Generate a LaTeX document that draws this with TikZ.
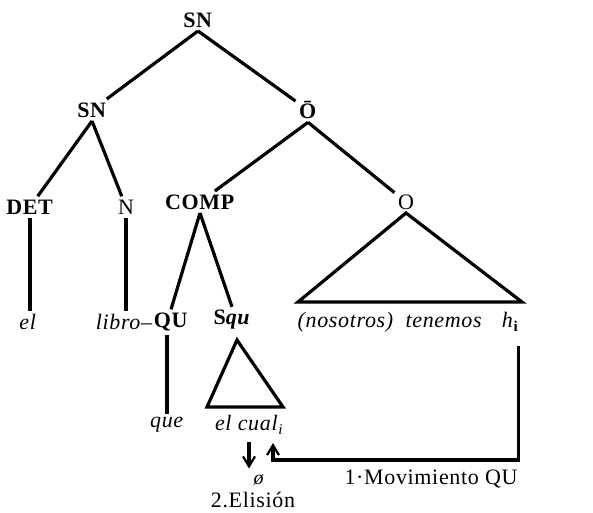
\documentclass[tikz,border=0pt]{standalone}
\usepackage{fontspec}
\setmainfont{Liberation Serif}[LetterSpace=3]
\usetikzlibrary{arrows.meta}
\newcommand{\lowidx}[1]{\raisebox{-0.45ex}{\fontsize{15}{15}\selectfont #1}}
\begin{document}
\begin{tikzpicture}[x=1pt,y=-1pt,font=\fontsize{22}{25}\selectfont,line width=3.2pt]
    \tikzset{lab/.style={inner sep=2pt},
             arr/.style={-{Straight Barb[length=10pt,width=12pt,line width=2.2pt]}}}
    \useasboundingbox (0,0) rectangle (593,512);
    % top levels
    \node[lab] (sn) at (198,20) {\textbf{SN}};
    \node[lab] (snl) at (92,110) {\textbf{SN}};
    \node[lab] (ob) at (308,110) {\textbf{\=O}};
    \draw (sn.south) -- (snl);
    \draw (sn.south) -- (ob);
    % SN branch
    \node[lab] (det) at (30,207) {\textbf{DET}};
    \node[lab] (n) at (126,207) {N};
    \draw (snl.south) -- (det);
    \draw (snl.south) -- (n);
    \node[lab] (el) at (28,322) {\textit{el}};
    \node[lab] (libro) at (124,322) {\textit{libro}--};
    \draw (det.south) -- (det.south |- el.north);
    \draw (n.south) -- (n.south |- libro.north);
    % O-bar branch
    \node[lab] (comp) at (200,202) {\textbf{COMP}};
    \node[lab] (o) at (406,202) {O};
    \draw (ob.south) -- (comp);
    \draw (ob.south) -- (o);
    \node[lab] (qu) at (171,322) {\textbf{QU}};
    \node[lab] (squ) at (232,320) {\textbf{S\textit{qu}}};
    \draw (comp.south) -- (qu.north);
    \draw (comp.south) -- (squ.north);
    \node[lab] (que) at (167,425) {\textit{que}};
    \draw ([xshift=-4pt]qu.south) -- ([xshift=-4pt]qu.south |- que.north);
    % triangle under Squ
    \coordinate (sqtop) at (237,340);
    \coordinate (sqbl) at (207,407);
    \coordinate (sqbr) at (283,407);
    \draw (sqtop) -- (sqbr) -- (sqbl) -- cycle;
    \node[lab] (cual) at (249,425) {\textit{el cual}\lowidx{\textit{i}}};
    % triangle under O
    \coordinate (obl) at (298,302);
    \coordinate (obr) at (522,302);
    \draw (o.south) -- (obr) -- (obl) -- cycle;
    \node[lab] (ten) at (390,322) {\textit{(nosotros) \ tenemos}};
    \node[lab] (hi) at (510,322) {\textit{h}\lowidx{\textbf{i}}};
    % the two rules
    \node[lab] (nul) at (259,480) {\fontsize{20}{20}\selectfont\textit{ø}};
    \node[lab] (elis) at (253,500) {2.Elisión};
    \node[lab] (mov) at (431,479) {1·Movimiento QU};
    \draw[arr] ([yshift=-3pt]cual.south) -- ++(0,27);
    \coordinate (mvtip) at (273,443);
    \coordinate (mvbend) at (273,460);
    \draw[arr] ([xshift=-3pt,yshift=-10pt]hi.south east) |- (mvbend) -- (mvtip);
\end{tikzpicture}
\end{document}
